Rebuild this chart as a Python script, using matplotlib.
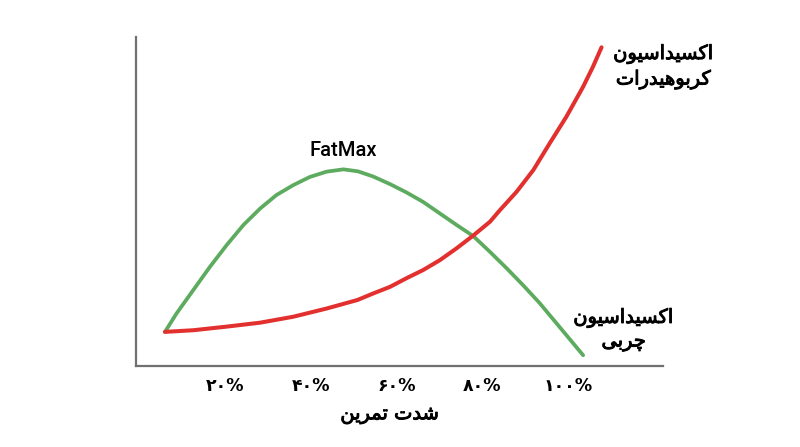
import matplotlib.pyplot as plt
import matplotlib.patheffects as pe

# x = exercise intensity (%), y = relative oxidation
fat_x = [6.0, 8.7, 12.6, 16.5, 20.4, 24.3, 28.2, 32.0, 35.9, 39.8, 43.7,
         47.6, 51.0, 54.6, 58.5, 62.3, 66.2, 70.1, 74.0, 77.9, 81.8, 85.7,
         89.5, 93.4, 97.3, 101.2, 103.5]
fat_y = [10.4, 16.0, 23.1, 30.2, 36.8, 42.9, 47.9, 52.0, 55.0, 57.5, 59.1,
         59.8, 59.2, 57.6, 55.3, 52.8, 49.9, 46.4, 42.9, 39.5, 34.7, 29.7,
         24.6, 19.1, 13.0, 6.9, 3.3]
carb_x = [6.0, 12.6, 20.4, 28.2, 35.9, 43.7, 50.9, 54.6, 58.5, 62.3, 66.2,
          70.1, 74.0, 77.9, 81.8, 84.1, 88.0, 91.9, 95.7, 99.6, 103.5, 105.8,
          107.8]
carb_y = [10.4, 10.9, 12.0, 13.2, 15.0, 17.5, 20.1, 22.1, 24.1, 26.7, 29.2,
          32.2, 35.8, 39.7, 43.9, 47.4, 53.0, 59.6, 67.7, 75.8, 84.9, 91.0,
          96.9]
ticks = [20, 40, 60, 80, 100]
tick_labels = ['۲۰%', '۴۰%', '۶۰%', '۸۰%', '۱۰۰%']
xlabel = 'شدت تمرین'
carb_label = ['اکسیداسیون', 'کربوهیدرات']
fat_label = ['اکسیداسیون', 'چربی']

# minimal persian shaping, matplotlib draws glyphs as-is (no bidi / joining)
FORMS = {
    'ا': (0xFE8D, 0xFE8E, None, None),
    'ب': (0xFE8F, 0xFE90, 0xFE91, 0xFE92),
    'ت': (0xFE95, 0xFE96, 0xFE97, 0xFE98),
    'چ': (0xFB7A, 0xFB7B, 0xFB7C, 0xFB7D),
    'د': (0xFEA9, 0xFEAA, None, None),
    'ر': (0xFEAD, 0xFEAE, None, None),
    'س': (0xFEB1, 0xFEB2, 0xFEB3, 0xFEB4),
    'ش': (0xFEB5, 0xFEB6, 0xFEB7, 0xFEB8),
    'ک': (0xFED9, 0xFEDA, 0xFEDB, 0xFEDC),
    'م': (0xFEE1, 0xFEE2, 0xFEE3, 0xFEE4),
    'ن': (0xFEE5, 0xFEE6, 0xFEE7, 0xFEE8),
    'ه': (0xFEE9, 0xFEEA, 0xFEEB, 0xFEEC),
    'و': (0xFEED, 0xFEEE, None, None),
    'ی': (0xFEEF, 0xFEF0, 0xFEF3, 0xFEF4),
}


def shape(s):
    out = []
    for i, c in enumerate(s):
        if c not in FORMS:
            out.append(c)
            continue
        prev = s[i - 1] if i > 0 else ''
        nxt = s[i + 1] if i + 1 < len(s) else ''
        join_prev = prev in FORMS and FORMS[prev][2] is not None
        join_next = nxt in FORMS and FORMS[c][2] is not None
        f = FORMS[c]
        if join_prev and join_next:
            out.append(chr(f[3]))
        elif join_prev:
            out.append(chr(f[1]))
        elif join_next:
            out.append(chr(f[2]))
        else:
            out.append(chr(f[0]))
    return ''.join(reversed(out))


# a bit heavier than regular, lighter than bold
medium = [pe.withStroke(linewidth=0.7, foreground='black')]

fig = plt.figure(figsize=(8, 4.47), dpi=100)
ax = fig.add_axes([0.1706, 0.181, 0.658, 0.736])

ax.plot(fat_x, fat_y, color='#5cab5f', lw=2.7, solid_capstyle='round',
        solid_joinstyle='round')
ax.plot(carb_x, carb_y, color='#e2302f', lw=2.9, solid_capstyle='round',
        solid_joinstyle='round')

ax.set_xlim(-0.64, 122.1)
ax.set_ylim(0, 100)
for s in ['top', 'right']:
    ax.spines[s].set_visible(False)
for s in ['left', 'bottom']:
    ax.spines[s].set_color('#707070')
    ax.spines[s].set_linewidth(1.6)
ax.set_yticks([])
ax.set_xticks(ticks)
ax.set_xticklabels(tick_labels, family='DejaVu Sans', fontsize=12.5, weight='bold')
ax.tick_params(axis='x', length=0, pad=8)
ax.set_xlabel(shape(xlabel), family='DejaVu Sans', fontsize=14,
              labelpad=7, x=0.4815, path_effects=medium)

ax.text(47.6, 65.6, 'FatMax', family=['Roboto', 'DejaVu Sans'], fontsize=14.5,
        weight='medium', ha='center', va='center')
ax.text(122.3, 94.8, shape(carb_label[0]), family='DejaVu Sans', fontsize=14,
        ha='center', va='center', path_effects=medium)
ax.text(122.3, 87.0, shape(carb_label[1]), family='DejaVu Sans', fontsize=14,
        ha='center', va='center', path_effects=medium)
ax.text(113.0, 14.6, shape(fat_label[0]), family='DejaVu Sans', fontsize=14,
        ha='center', va='center', path_effects=medium)
ax.text(113.0, 7.4, shape(fat_label[1]), family='DejaVu Sans', fontsize=14,
        ha='center', va='center', path_effects=medium)

fig.savefig('out.png', dpi=100)
